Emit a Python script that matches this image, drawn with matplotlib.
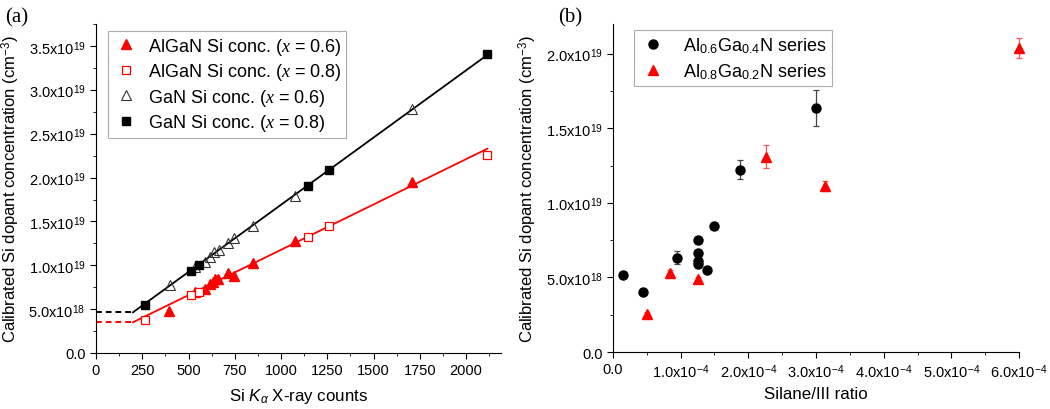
import matplotlib.pyplot as plt
import numpy as np
from matplotlib.ticker import MultipleLocator, FuncFormatter
from matplotlib.lines import Line2D

plt.rcParams['font.family'] = ['Liberation Sans', 'DejaVu Sans']
plt.rcParams['mathtext.fontset'] = 'custom'
plt.rcParams['mathtext.rm'] = 'Liberation Sans'
plt.rcParams['mathtext.it'] = 'Liberation Serif:italic'
plt.rcParams['mathtext.sf'] = 'Liberation Sans:italic'

# ---- panel (a): Si K-alpha counts vs calibrated concentration
algan06_x = [397, 533, 587, 618, 630, 645, 660, 712, 748, 847, 1073, 1707]
algan06_y = [0.48e19, 0.70e19, 0.73e19, 0.79e19, 0.81e19, 0.84e19, 0.84e19,
             0.91e19, 0.88e19, 1.03e19, 1.28e19, 1.95e19]
algan08_x = [266, 515, 558, 1144, 1261, 2115]
algan08_y = [0.376e19, 0.66e19, 0.70e19, 1.32e19, 1.445e19, 2.26e19]
gan06_x = [401, 537, 587, 614, 640, 663, 712, 744, 847, 1073, 1707]
gan06_y = [0.77e19, 0.98e19, 1.04e19, 1.10e19, 1.15e19, 1.18e19, 1.26e19,
           1.31e19, 1.45e19, 1.79e19, 2.78e19]
gan08_x = [266, 515, 558, 1144, 1261, 2115]
gan08_y = [0.551e19, 0.93e19, 1.00e19, 1.91e19, 2.09e19, 3.41e19]

# fitted lines (knee at ~200 counts, flat dashed part below)
fit_x = [200, 2115]
gan_fit_y = [0.464e19, 3.40e19]
algan_fit_y = [0.350e19, 2.33e19]

# ---- panel (b): silane/III ratio vs concentration
al06_x = [0.152e-4, 0.448e-4, 0.94e-4, 1.25e-4, 1.25e-4, 1.25e-4, 1.25e-4,
          1.384e-4, 1.50e-4, 1.876e-4, 3.0e-4]
al06_y = [0.517e19, 0.40e19, 0.633e19, 0.752e19, 0.662e19, 0.613e19, 0.590e19,
          0.552e19, 0.843e19, 1.224e19, 1.638e19]
al06_err = [0.02e19, 0.02e19, 0.042e19, 0.02e19, 0.02e19, 0.02e19, 0.02e19,
            0.015e19, 0.015e19, 0.063e19, 0.12e19]
al08_x = [0.507e-4, 0.842e-4, 1.25e-4, 2.255e-4, 3.13e-4, 6.0e-4]
al08_y = [0.257e19, 0.53e19, 0.49e19, 1.311e19, 1.116e19, 2.038e19]
al08_err = [0.01e19, 0.02e19, 0.015e19, 0.08e19, 0.033e19, 0.067e19]


def sci(v, pos):
    if abs(v) < 1e-30:
        return '0.0'
    e = int(np.floor(np.log10(abs(v)) + 1e-9))
    m = v / 10**e
    return f'{m:.1f}x10$^{{{e}}}$'


def style(ax):
    ax.spines['top'].set_visible(False)
    ax.spines['right'].set_visible(False)
    ax.tick_params(which='major', direction='out', length=4, labelsize=10.5)
    ax.tick_params(which='minor', direction='out', length=2.5)


fig = plt.figure(figsize=(10.5, 4.1), dpi=100)
ax1 = fig.add_axes([0.0914, 0.1366, 0.386, 0.802])
ax2 = fig.add_axes([0.5838, 0.139, 0.3867, 0.800])

red = '#ff0000'
ax1.plot([0, fit_x[0]], [gan_fit_y[0]] * 2, '--', color='black', lw=1.4, dashes=(3, 2))
ax1.plot([0, fit_x[0]], [algan_fit_y[0]] * 2, '--', color=red, lw=1.4, dashes=(3, 2))
ax1.plot(fit_x, gan_fit_y, '-', color='black', lw=1.3)
ax1.plot(fit_x, algan_fit_y, '-', color=red, lw=1.3)

ax1.plot(algan06_x, algan06_y, '^', color=red, ms=7, ls='none',
         label=r'AlGaN Si conc. ($x$ = 0.6)')
ax1.plot(algan08_x, algan08_y, 's', mfc='white', mec=red, mew=0.9, ms=6, ls='none',
         label=r'AlGaN Si conc. ($x$ = 0.8)')
ax1.plot(gan06_x, gan06_y, '^', mfc='none', mec='#333333', mew=0.8, ms=7, ls='none',
         label=r'GaN Si conc. ($x$ = 0.6)')
ax1.plot(gan08_x, gan08_y, 's', color='black', ms=6, ls='none',
         label=r'GaN Si conc. ($x$ = 0.8)')

ax1.set_xlim(0, 2190)
ax1.set_ylim(0, 3.75e19)
ax1.xaxis.set_major_locator(MultipleLocator(250))
ax1.xaxis.set_minor_locator(MultipleLocator(125))
ax1.yaxis.set_major_locator(MultipleLocator(0.5e19))
ax1.yaxis.set_minor_locator(MultipleLocator(0.25e19))
ax1.yaxis.set_major_formatter(FuncFormatter(sci))
style(ax1)
ax1.set_xlabel(r'Si $\mathsf{K_α}$ X-ray counts', fontsize=12.2, labelpad=6)
ax1.set_ylabel(r'Calibrated Si dopant concentration (cm$^{-3}$)', fontsize=12, labelpad=5)
leg1 = ax1.legend(loc='upper left', bbox_to_anchor=(0.02, 0.99), fontsize=13,
                  frameon=True, fancybox=False, edgecolor='#999999',
                  handletextpad=0.5, borderpad=0.25, labelspacing=0.25,
                  handlelength=1.5, borderaxespad=0.2)
leg1.get_frame().set_linewidth(0.8)

ax2.errorbar(al06_x, al06_y, yerr=al06_err, fmt='o', color='black', ms=6.5,
             ecolor='#444444', elinewidth=0.9, capsize=2.5, capthick=0.9,
             clip_on=False)
ax2.errorbar(al08_x, al08_y, yerr=al08_err, fmt='^', color=red, ms=7,
             ecolor='#ff5555', elinewidth=0.9, capsize=2.5, capthick=0.9,
             clip_on=False)
ax2.set_xlim(0, 6.0e-4)
ax2.set_ylim(0, 2.2e19)
ax2.xaxis.set_major_locator(MultipleLocator(1e-4))
ax2.xaxis.set_minor_locator(MultipleLocator(0.5e-4))
ax2.yaxis.set_major_locator(MultipleLocator(0.5e19))
ax2.yaxis.set_minor_locator(MultipleLocator(0.25e19))
ax2.xaxis.set_major_formatter(FuncFormatter(sci))
ax2.yaxis.set_major_formatter(FuncFormatter(sci))
style(ax2)
ax2.set_xlabel('Silane/III ratio', fontsize=12.2, labelpad=4)
ax2.set_ylabel(r'Calibrated Si dopant concentration (cm$^{-3}$)', fontsize=12, labelpad=5)
handles = [Line2D([], [], marker='o', color='black', ms=6.5, ls='none'),
           Line2D([], [], marker='^', color=red, ms=7, ls='none')]
leg2 = ax2.legend(handles, [r'Al$_{0.6}$Ga$_{0.4}$N series', r'Al$_{0.8}$Ga$_{0.2}$N series'],
                  loc='upper left', bbox_to_anchor=(0.03, 1.01), fontsize=13,
                  frameon=True, fancybox=False, edgecolor='#999999',
                  handletextpad=0.9, borderpad=0.3, labelspacing=0.35,
                  handlelength=1.5)
leg2.get_frame().set_linewidth(0.8)

fig.text(0.005, 0.945, '(a)', fontsize=15, family='Liberation Serif')
fig.text(0.532, 0.945, '(b)', fontsize=15, family='Liberation Serif')

fig.savefig('out.png', dpi=100)
